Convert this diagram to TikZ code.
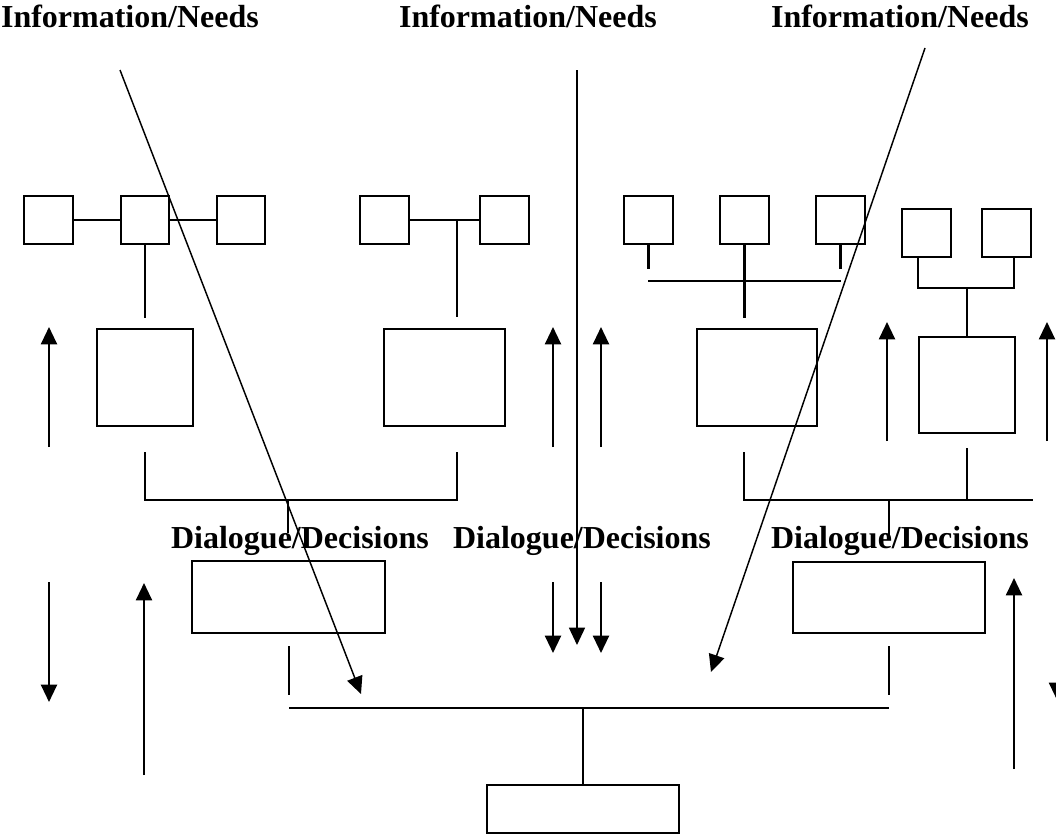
\documentclass[tikz,border=0pt]{standalone}
\usepackage{fontspec}
\setmainfont{Liberation Serif}
\usetikzlibrary{arrows.meta}

\begin{document}
\begin{tikzpicture}[x=0.75pt, y=-0.75pt, line width=1.6pt,
    unitbox/.style 2 args={draw, inner sep=0pt, minimum width=#1*0.75pt, minimum height=#2*0.75pt},
    headtext/.style={font=\fontsize{24}{28}\selectfont\bfseries, inner sep=0pt, anchor=base west},
    flow/.style={-{Triangle[length=13pt, width=12pt]}},
    thin flow/.style={flow, line width=1.1pt}]
    \useasboundingbox (0,0) rectangle (1056,835);
    \clip (0,0) rectangle (1056,835);

    % headings
    \node[headtext] (need1) at (0,27) {Information/Needs};
    \node[headtext] (need2) at (398,27) {Information/Needs};
    \node[headtext] (need3) at (770,27) {Information/Needs};
    \node[headtext] (talk1) at (170,548) {Dialogue/Decisions};
    \node[headtext] (talk2) at (452,548) {Dialogue/Decisions};
    \node[headtext] (talk3) at (770,548) {Dialogue/Decisions};

    % Group 1: three linked boxes
    \node[unitbox={49}{48}] (s11) at (48.5,220) {};
    \node[unitbox={48}{48}] (s12) at (145,220) {};
    \node[unitbox={48}{48}] (s13) at (241,220) {};
    \node[unitbox={96}{97}] (b1) at (145,377.5) {};
    \draw (s11) -- (s12) (s12) -- (s13);
    \draw (s12.south) -- ++(0,73);

    % Group 2: two linked boxes
    \node[unitbox={49}{48}] (s21) at (384.5,220) {};
    \node[unitbox={49}{48}] (s22) at (504.5,220) {};
    \node[unitbox={121}{97}] (b2) at (444.5,377.5) {};
    \coordinate (m2) at (457,220);
    \draw (s21) -- (s22);
    \draw (m2) -- ++(0,97);

    % bracket under groups 1 and 2
    \coordinate (k1) at (145,452);
    \coordinate (k2) at (457,452);
    \coordinate (j1) at (288,500);
    \draw (k1) -- ++(0,48) -| (k2);
    \draw (j1) -- ++(0,33);

    % Group 3: three boxes on a bus
    \node[unitbox={49}{48}] (s31) at (648.5,220) {};
    \node[unitbox={49}{48}] (s32) at (744.5,220) {};
    \node[unitbox={49}{48}] (s33) at (840.5,220) {};
    \node[unitbox={120}{97}] (b3) at (757,377.5) {};
    \coordinate (bus3) at (648,281);
    \draw (s31.south) -- ++(0,24) (s33.south) -- ++(0,24);
    \draw (bus3) -- ++(193,0);
    \draw (s32.south) -- ++(0,73);

    % Group 4: two boxes joined above one box
    \node[unitbox={49}{48}] (s41) at (926.5,233) {};
    \node[unitbox={49}{48}] (s42) at (1006.5,233) {};
    \node[unitbox={96}{96}] (b4) at (967,385) {};
    \coordinate (hub4) at (967,288);
    \draw (s41.south -| 918,0) |- (hub4) -| (s42.south -| 1014,0);
    \draw (hub4) -- (b4.north);

    % bracket under groups 3 and 4
    \coordinate (k3) at (744,452);
    \coordinate (k4) at (967,448);
    \coordinate (j2) at (889,500);
    \draw (k3) -- ++(0,48) -- ++(289,0);
    \draw (k4) -- ++(0,52);
    \draw (j2) -- ++(0,40);

    % Dialogue boxes and result box
    \node[unitbox={193}{72}] (d1) at (288.5,597) {};
    \node[unitbox={192}{71}] (d2) at (889,597.5) {};
    \node[unitbox={192}{48}] (res) at (583,809) {};
    \coordinate (p1) at (289,646);
    \coordinate (p2) at (889,646);
    \draw (p1) -- ++(0,49) (p2) -- ++(0,49);
    \draw (289,708) -- (889,708);
    \draw (583,708) -- (res.north);

    % vertical flow arrows
    \foreach \ax/\ay/\by in {49/447/327, 553/447/327, 601/447/327, 887/441/322, 1047/441/322,
        49/582/702, 144/775/583, 553/582/653, 601/582/653, 1014/769/578, 1057/582/700}
        \draw[flow] (\ax,\ay) -- (\ax,\by);

    % information lines
    \draw[thin flow] (120,70) -- (361,694);
    \draw[thin flow] (577,70) -- (577,645);
    \draw[thin flow] (925,48) -- (711,672);
\end{tikzpicture}
\end{document}
